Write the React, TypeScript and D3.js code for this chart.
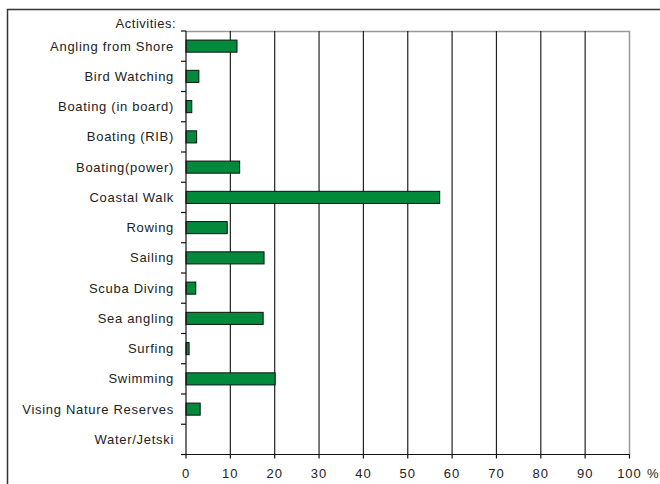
import React from "react";
import * as d3 from "d3";

const categories = [
  "Angling from Shore",
  "Bird Watching",
  "Boating (in board)",
  "Boating (RIB)",
  "Boating(power)",
  "Coastal Walk",
  "Rowing",
  "Sailing",
  "Scuba Diving",
  "Sea angling",
  "Surfing",
  "Swimming",
  "Vising Nature Reserves",
  "Water/Jetski",
];
const values = [11.5, 2.9, 1.3, 2.4, 12.1, 57.2, 9.3, 17.6, 2.2, 17.4, 0.7, 20.1, 3.2, 0];
const xTicks = [0, 10, 20, 30, 40, 50, 60, 70, 80, 90, 100];

const W = 660;
const H = 484;
const left = 186;
const right = 629.5;
const top = 31;
const bottom = 454.5;
const font = "Arial, 'Liberation Sans', sans-serif";

export default function App() {
  const x = d3.scaleLinear().domain([0, 100]).range([left, right]);
  const y = d3.scaleBand<string>().domain(categories).range([top, bottom]).paddingInner(0.6).paddingOuter(0.3);
  const band = d3.scaleBand<string>().domain(categories).range([top, bottom]);
  const boundaries = d3.range(categories.length + 1).map((i) => top + i * band.step());
  return (
    <svg width={W} height={H} style={{ position: "absolute", left: 0, top: 0, background: "#fff" }}>
      <rect x={0} y={0} width={W} height={H} fill="#fff" />
      {/* outer frame */}
      <path d={`M7.5,${H} V9.5 H${W}`} fill="none" stroke="#333" strokeWidth={1.5} />
      {/* plot frame top/right */}
      <path d={`M${left},${top + 0.5} H${right} V${bottom}`} fill="none" stroke="#999" strokeWidth={1.5} />
      {/* gridlines */}
      {xTicks.slice(1, -1).map((t) => (
        <line key={t} x1={x(t)} x2={x(t)} y1={top} y2={bottom} stroke="#222" strokeWidth={1.2} />
      ))}
      {/* bars */}
      {categories.map((c, i) =>
        values[i] > 0 ? (
          <rect
            key={c}
            x={x(0)}
            y={y(c)}
            width={x(values[i]) - x(0)}
            height={y.bandwidth()}
            fill="#03893c"
            stroke="#111"
            strokeWidth={1}
          />
        ) : null
      )}
      {/* y axis */}
      <line x1={left} x2={left} y1={top} y2={bottom} stroke="#111" strokeWidth={1.2} />
      {boundaries.map((b, i) => (
        <line key={i} x1={left - 5} x2={left} y1={b} y2={b} stroke="#111" strokeWidth={1.2} />
      ))}
      {/* x axis */}
      <line x1={left - 5} x2={right} y1={bottom} y2={bottom} stroke="#111" strokeWidth={1.2} />
      {xTicks.map((t) => (
        <line key={t} x1={x(t)} x2={x(t)} y1={bottom} y2={bottom + 4} stroke="#111" strokeWidth={1.2} />
      ))}
      {xTicks.map((t) => (
        <text key={t} x={x(t)} y={478} textAnchor="middle" fontFamily={font} fontSize={13} letterSpacing={1} fill="#222">
          {t}
        </text>
      ))}
      <text x={647} y={478} fontFamily={font} fontSize={13} fill="#222">%</text>
      {/* category labels */}
      {categories.map((c) => (
        <text
          key={c}
          x={174}
          y={band(c)! + band.step() / 2 + 4.5}
          textAnchor="end"
          fontFamily={font}
          fontSize={13}
          letterSpacing={0.7}
          fill="#222"
        >
          {c}
        </text>
      ))}
      <text x={176} y={28} textAnchor="end" fontFamily={font} fontSize={13} letterSpacing={0.5} fill="#222">
        Activities:
      </text>
    </svg>
  );
}
